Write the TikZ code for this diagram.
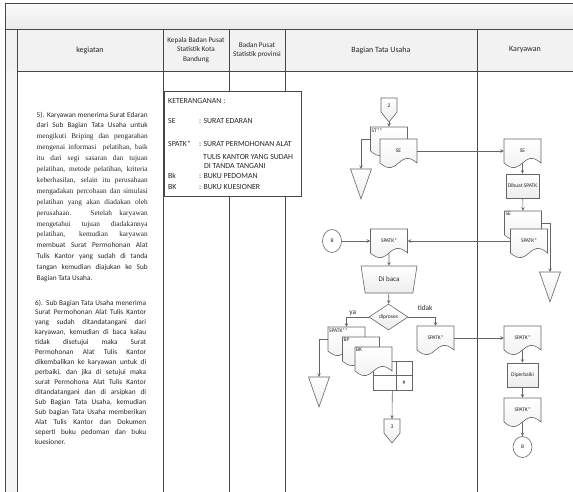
\documentclass[tikz,border=0pt]{standalone}
\usepackage{fontspec}
\setmainfont{Carlito}
\newfontfamily\timesfont{Liberation Serif}
\usetikzlibrary{arrows,positioning,shapes,shapes.geometric,calc}

\begin{document}
\begin{tikzpicture}[x=1pt,y=-1pt,>=stealth,
	frame/.style={draw=black!72,line width=0.8pt},
	flow/.style={draw=black!60,line width=0.6pt},
	link/.style={flow,->},
	shade/.style={top color=white,bottom color=black!7},
	hdr/.style={font=\fontsize{8}{9.5}\selectfont,align=center,text=black!85},
	hdrsm/.style={font=\fontsize{7.2}{9.6}\selectfont,align=center,text=black!85},
	para/.style={font=\fontsize{7.3}{10.9}\selectfont,text width=111pt,align=justify,inner sep=0pt,anchor=north west,text=black!85},
	legtext/.style={font=\fontsize{7.8}{10}\selectfont,align=left,inner sep=0pt,anchor=north west,text=black!85},
	small/.style={font=\fontsize{5.5}{6.5}\selectfont,text=black!85},
	lbl/.style={font=\fontsize{7.3}{8}\selectfont,text=black!85,inner sep=1pt},
	docbody/.style={small,minimum width=37pt,minimum height=24pt,inner sep=0pt},
	corner/.style={small,anchor=north west,inner sep=1.2pt},
	proc/.style={flow,shade,small,minimum width=33pt,minimum height=24pt,inner sep=0pt},
	conn/.style={flow,fill=white,ellipse,small,minimum width=19pt,minimum height=23pt,inner sep=0pt},
	manual/.style={flow,shade,trapezium,trapezium stretches=true,shape border rotate=180,
		trapezium left angle=70,trapezium right angle=70,minimum width=56pt,minimum height=27pt,
		inner sep=0pt,font=\fontsize{7}{8}\selectfont,text=black!85},
	decision/.style={flow,shade,diamond,aspect=1.5,minimum width=39pt,minimum height=26pt,inner sep=0pt,small},
	docu/.pic={
		\draw[flow,shade] (-18.5,-12) -- (18.5,-12) -- (18.5,12) .. controls (0,-4) and (0,28) .. (-18.5,12) -- cycle;
		\node[docbody] (-d) at (0,0) {\tikzpictext};
	},
	docc/.pic={
		\draw[flow,shade] (-18.5,-12) -- (18.5,-12) -- (18.5,12) .. controls (0,-4) and (0,28) .. (-18.5,12) -- cycle;
		\node[docbody] (-d) at (0,0) {};
		\node[corner] (-t) at (-d.north west) {\tikzpictext};
	},
	offpage/.pic={
		\draw[flow,shade] (-8,-12) -- (8,-12) -- (8,2) -- (0,12) -- (-8,2) -- cycle;
		\node[small] (-c) at (0,-4) {\tikzpictext};
		\coordinate (-tip) at (0,12);
		\coordinate (-top) at (0,-12);
	},
	arsip/.pic={
		\draw[flow,shade] (-10.5,0) -- (10.5,0) -- (0,30) -- cycle;
		\coordinate (-top) at (0,0);
	}]
	\useasboundingbox (0,0) rectangle (573,492);

	% Swimlane table
	\fill[top color=black!2,bottom color=black!8] (5,3) rectangle (573,29);
	\fill[black!5] (5,29) rectangle (573,71);
	\fill[black!4] (5,71) rectangle (17,492);
	\draw[frame] (573,3) -- (5,3) -- (5,492);
	\draw[frame] (5,29) -- (573,29);
	\draw[frame] (17,71) -- (573,71);
	\foreach \x in {17,163,229,285,477}
		\draw[frame] (\x,29) -- (\x,492);

	% Lane headers
	\node[hdr] (hKeg) at (90,50) {kegiatan};
	\node[hdrsm] (hKota) at (196,50) {Kepala Badan Pusat\\Statistik Kota\\Bandung};
	\node[hdrsm] (hProv) at (257,50) {Badan Pusat\\Statistik provinsi};
	\node[hdr] (hTU) at (381,50) {Bagian Tata Usaha};
	\node[hdr] (hKar) at (525,50) {Karyawan};

	% Activity text
	\node[para] (p5) at (36.5,111.5) {5). Karyawan menerima Surat Edaran\linebreak
		dari Sub Bagian Tata Usaha untuk\linebreak
		{\timesfont mengikuti Briping dan pengarahan\linebreak
		mengenai informasi\ \ pelatihan, baik\linebreak
		itu dari segi sasaran dan tujuan\linebreak
		pelatihan, metode pelatihan, kriteria\linebreak
		keberhasilan, selain itu perusahaan\linebreak
		mengadakan percobaan dan simulasi\linebreak
		pelatihan yang akan diadakan oleh\linebreak
		perusahaan. Setelah karyawan\linebreak
		mengetahui tujuan diadakannya\linebreak
		pelatihan, kemudian karyawan\linebreak}
		membuat Surat Permohonan Alat\linebreak
		Tulis Kantor yang sudah di tanda\linebreak
		tangan kemudian diajukan ke Sub\linebreak
		Bagian Tata Usaha.};
	\node[para,font=\fontsize{7.3}{9.95}\selectfont] (p6) at (35,299.5) {6). Sub Bagian Tata Usaha menerima\linebreak
		Surat Permohonan Alat Tulis Kantor\linebreak
		yang sudah ditandatangani dari\linebreak
		karyawan, kemudian di baca kalau\linebreak
		tidak disetujui maka Surat\linebreak
		Permohonan Alat Tulis Kantor\linebreak
		dikembalikan ke karyawan untuk di\linebreak
		perbaiki, dan jika di setujui maka\linebreak
		surat Permohona Alat Tulis Kantor\linebreak
		ditandatangani dan di arsipkan di\linebreak
		Sub Bagian Tata Usaha, kemudian\linebreak
		Sub bagian Tata Usaha memberikan\linebreak
		Alat Tulis Kantor dan Dokumen\linebreak
		seperti buku pedoman dan buku\linebreak
		kuesioner.};

	% Legend
	\node[frame,fill=white,minimum width=137pt,minimum height=105pt,inner sep=0pt] (ket) at (232.5,143.5) {};
	\node[legtext] (ketisi) at (168,98) {KETERANGANAN :\\[10pt]
		\makebox[31pt][l]{SE}: SURAT EDARAN\\[13pt]
		\makebox[31pt][l]{SPATK*}: SURAT PERMOHONAN ALAT\\[3pt]
		\hspace*{35pt}TULIS KANTOR YANG SUDAH\\[-1pt]
		\hspace*{36pt}DI TANDA TANGANI\\
		\makebox[31pt][l]{Bk}: BUKU PEDOMAN\\[1pt]
		\makebox[31pt][l]{BK}: BUKU KUESIONER};

	% Surat edaran
	\pic[pic text=2] (op2) at (389,110) {offpage};
	\pic[pic text=ST**] (st) at (389,139) {docc};
	\pic[pic text=SE] (seT) at (398.5,151) {docu};
	\pic (arsA) at (361,169) {arsip};
	\draw[link] (op2-tip) -- (st-d.north);
	\draw[link] (st-d.west) -| (arsA-top);

	% Karyawan makes the SPATK
	\pic[pic text=SE] (seK) at (522.5,151) {docu};
	\node[proc] (buat) at (522.5,186) {Dibuat SPATK};
	\pic[pic text=SE] (seK2) at (523,223) {docc};
	\pic[pic text=SPATK*] (spK) at (529,241) {docu};
	\pic (arsK) at (550,272) {arsip};
	\draw[link] (seT-d.east) -- (seK-d.west);
	\draw[link] (seK-d.south) -- (buat);
	\draw[link] (buat) -- (seK2-d.north);
	\draw[link] (seK2-d.east) -| (arsK-top);

	% Reading and deciding
	\node[conn] (b1) at (332,241) {B};
	\pic[pic text=SPATK*] (spT) at (389,241) {docu};
	\node[manual] (baca) at (389,279.5) {Di baca};
	\node[decision] (proses) at (388.5,317) {diproses};
	\draw[link] (spK-d.west) -- (spT-d.east);
	\draw[link] (b1) -- (spT-d.west);
	\draw[link] (spT-d.south) -- (baca);
	\draw[link] (baca) -- (proses);

	% Approved: archive and hand over
	\node[flow,fill=white,minimum width=39pt,minimum height=29pt,inner sep=0pt] (arsgrid) at (392.5,375.5) {};
	\draw[flow] (396,361) -- (396,390) (373,375) -- (412,375);
	\node[small] (hash) at (404,383) {\#};
	\pic[pic text=SPATK**] (spx) at (346.5,339) {docc};
	\pic[pic text=BP] (bp) at (361,349) {docc};
	\pic[pic text=BK] (bk) at (373.5,359) {docc};
	\pic (arsL) at (319,377) {arsip};
	\pic[pic text=3] (op3) at (392,431) {offpage};
	\draw[link] (proses) -| node[lbl,above,pos=0.36] {ya} (spx-d.north);
	\draw[link] (spx-d.west) -| (arsL-top);
	\draw[link] (arsgrid) -- (op3-top);

	% Rejected: back to karyawan
	\pic[pic text=SPATK*] (spR) at (435.5,338) {docu};
	\pic[pic text=SPATK*] (spK3) at (522.5,338) {docu};
	\node[proc,minimum width=31pt] (baiki) at (522.5,375) {Diperbaiki};
	\pic[pic text=SPATK*] (spK4) at (522.5,410) {docu};
	\node[conn,minimum height=21pt] (b2) at (522.5,447) {B};
	\draw[link] (proses) -| node[lbl,above=5pt,pos=0.31] {tidak} (spR-d.north);
	\draw[link] (spR-d.east) -- (spK3-d.west);
	\draw[link] (spK3-d.south) -- (baiki);
	\draw[link] (baiki) -- (spK4-d.north);
	\draw[link] (spK4-d.south) -- (b2);
\end{tikzpicture}
\end{document}
